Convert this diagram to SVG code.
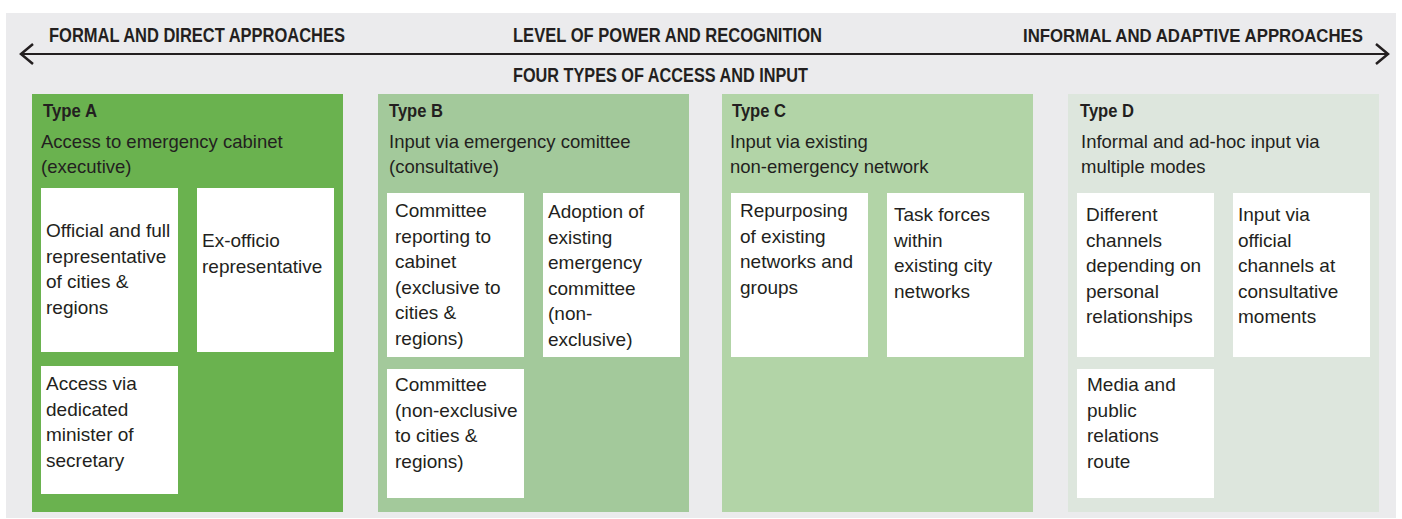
<svg xmlns="http://www.w3.org/2000/svg" width="1402" height="519" viewBox="0 0 1402 519">
<style>
.hdr{font-family:"Liberation Sans",Arial,sans-serif;font-weight:bold;font-size:20px;fill:#231f20}
.ttl{font-family:"Liberation Sans",Arial,sans-serif;font-weight:bold;font-size:18px;fill:#231f20}
.sub{font-family:"Liberation Sans",Arial,sans-serif;font-size:18.5px;fill:#231f20}
.bt{font-family:"Liberation Sans",Arial,sans-serif;font-size:19px;fill:#231f20}
.box{fill:#ffffff}
.ax{stroke:#231f20;stroke-width:2;fill:none}
.ah{stroke:#231f20;stroke-width:2.5;fill:none;stroke-linecap:butt;stroke-linejoin:miter}
</style>
<rect x="0" y="0" width="1402" height="519" fill="#ffffff"/>
<rect x="6" y="13" width="1390" height="505" fill="#ebebed"/>
<g id="connectors">
<line class="ax" x1="21" y1="54" x2="1388" y2="54"/>
<polyline class="ah" points="33,44 21,54 33,64"/>
<polyline class="ah" points="1376,44 1388,54 1376,64"/>
</g>
<g id="headers">
<text class="hdr" x="49" y="41.5" textLength="296" lengthAdjust="spacingAndGlyphs">FORMAL AND DIRECT APPROACHES</text>
<text class="hdr" x="513" y="41.5" textLength="309" lengthAdjust="spacingAndGlyphs">LEVEL OF POWER AND RECOGNITION</text>
<text class="hdr" x="1023" y="41.5" style="font-size:18px" textLength="340" lengthAdjust="spacingAndGlyphs">INFORMAL AND ADAPTIVE APPROACHES</text>
<text class="hdr" x="513" y="81.5" textLength="295" lengthAdjust="spacingAndGlyphs">FOUR TYPES OF ACCESS AND INPUT</text>
</g>
<g id="typeA">
<rect x="32" y="94" width="311" height="418" fill="#6ab24f"/>
<text class="ttl" x="43" y="117" textLength="54" lengthAdjust="spacingAndGlyphs">Type A</text>
<text class="sub" x="41" y="148">Access to emergency cabinet</text>
<text class="sub" x="41" y="173">(executive)</text>
<g id="a1"><rect class="box" x="41" y="188" width="137" height="164"/>
<text class="bt" x="46" y="237">Official and full</text>
<text class="bt" x="46" y="262.5">representative</text>
<text class="bt" x="46" y="288">of cities &amp;</text>
<text class="bt" x="46" y="313.5">regions</text></g>
<g id="a2"><rect class="box" x="197" y="188" width="137" height="164"/>
<text class="bt" x="202" y="247">Ex-officio</text>
<text class="bt" x="202" y="272.5">representative</text></g>
<g id="a3"><rect class="box" x="41" y="366" width="137" height="128"/>
<text class="bt" x="46" y="390">Access via</text>
<text class="bt" x="46" y="415.5">dedicated</text>
<text class="bt" x="46" y="441">minister of</text>
<text class="bt" x="46" y="466.5">secretary</text></g>
</g>
<g id="typeB">
<rect x="378" y="94" width="311" height="418" fill="#a3c99b"/>
<text class="ttl" x="389" y="117" textLength="54" lengthAdjust="spacingAndGlyphs">Type B</text>
<text class="sub" x="389" y="148">Input via emergency comittee</text>
<text class="sub" x="389" y="173">(consultative)</text>
<g id="b1"><rect class="box" x="387" y="193" width="137" height="164"/>
<text class="bt" x="395" y="217">Committee</text>
<text class="bt" x="395" y="242.5">reporting to</text>
<text class="bt" x="395" y="268">cabinet</text>
<text class="bt" x="395" y="293.5">(exclusive to</text>
<text class="bt" x="395" y="319">cities &amp;</text>
<text class="bt" x="395" y="344.5">regions)</text></g>
<g id="b2"><rect class="box" x="543" y="193" width="137" height="164"/>
<text class="bt" x="548" y="218">Adoption of</text>
<text class="bt" x="548" y="243.5">existing</text>
<text class="bt" x="548" y="269">emergency</text>
<text class="bt" x="548" y="294.5">committee</text>
<text class="bt" x="548" y="320">(non-</text>
<text class="bt" x="548" y="345.5">exclusive)</text></g>
<g id="b3"><rect class="box" x="387" y="369" width="137" height="129"/>
<text class="bt" x="395" y="391">Committee</text>
<text class="bt" x="395" y="416.5">(non-exclusive</text>
<text class="bt" x="395" y="442">to cities &amp;</text>
<text class="bt" x="395" y="467.5">regions)</text></g>
</g>
<g id="typeC">
<rect x="722" y="94" width="311" height="418" fill="#b2d4a7"/>
<text class="ttl" x="732" y="117" textLength="54" lengthAdjust="spacingAndGlyphs">Type C</text>
<text class="sub" x="730" y="148">Input via existing</text>
<text class="sub" x="730" y="173">non-emergency network</text>
<g id="c1"><rect class="box" x="731" y="193" width="137" height="164"/>
<text class="bt" x="740" y="217">Repurposing</text>
<text class="bt" x="740" y="242.5">of existing</text>
<text class="bt" x="740" y="268">networks and</text>
<text class="bt" x="740" y="293.5">groups</text></g>
<g id="c2"><rect class="box" x="887" y="193" width="137" height="164"/>
<text class="bt" x="894" y="221">Task forces</text>
<text class="bt" x="894" y="246.5">within</text>
<text class="bt" x="894" y="272">existing city</text>
<text class="bt" x="894" y="297.5">networks</text></g>
</g>
<g id="typeD">
<rect x="1068" y="94" width="311" height="418" fill="#dde6dd"/>
<text class="ttl" x="1080" y="117" textLength="54" lengthAdjust="spacingAndGlyphs">Type D</text>
<text class="sub" x="1081" y="148">Informal and ad-hoc input via</text>
<text class="sub" x="1081" y="173">multiple modes</text>
<g id="d1"><rect class="box" x="1077" y="193" width="137" height="164"/>
<text class="bt" x="1086" y="221">Different</text>
<text class="bt" x="1086" y="246.5">channels</text>
<text class="bt" x="1086" y="272">depending on</text>
<text class="bt" x="1086" y="297.5">personal</text>
<text class="bt" x="1086" y="323">relationships</text></g>
<g id="d2"><rect class="box" x="1233" y="193" width="137" height="164"/>
<text class="bt" x="1238" y="221">Input via</text>
<text class="bt" x="1238" y="246.5">official</text>
<text class="bt" x="1238" y="272">channels at</text>
<text class="bt" x="1238" y="297.5">consultative</text>
<text class="bt" x="1238" y="323">moments</text></g>
<g id="d3"><rect class="box" x="1077" y="369" width="137" height="129"/>
<text class="bt" x="1087" y="391">Media and</text>
<text class="bt" x="1087" y="416.5">public</text>
<text class="bt" x="1087" y="442">relations</text>
<text class="bt" x="1087" y="467.5">route</text></g>
</g>
</svg>
